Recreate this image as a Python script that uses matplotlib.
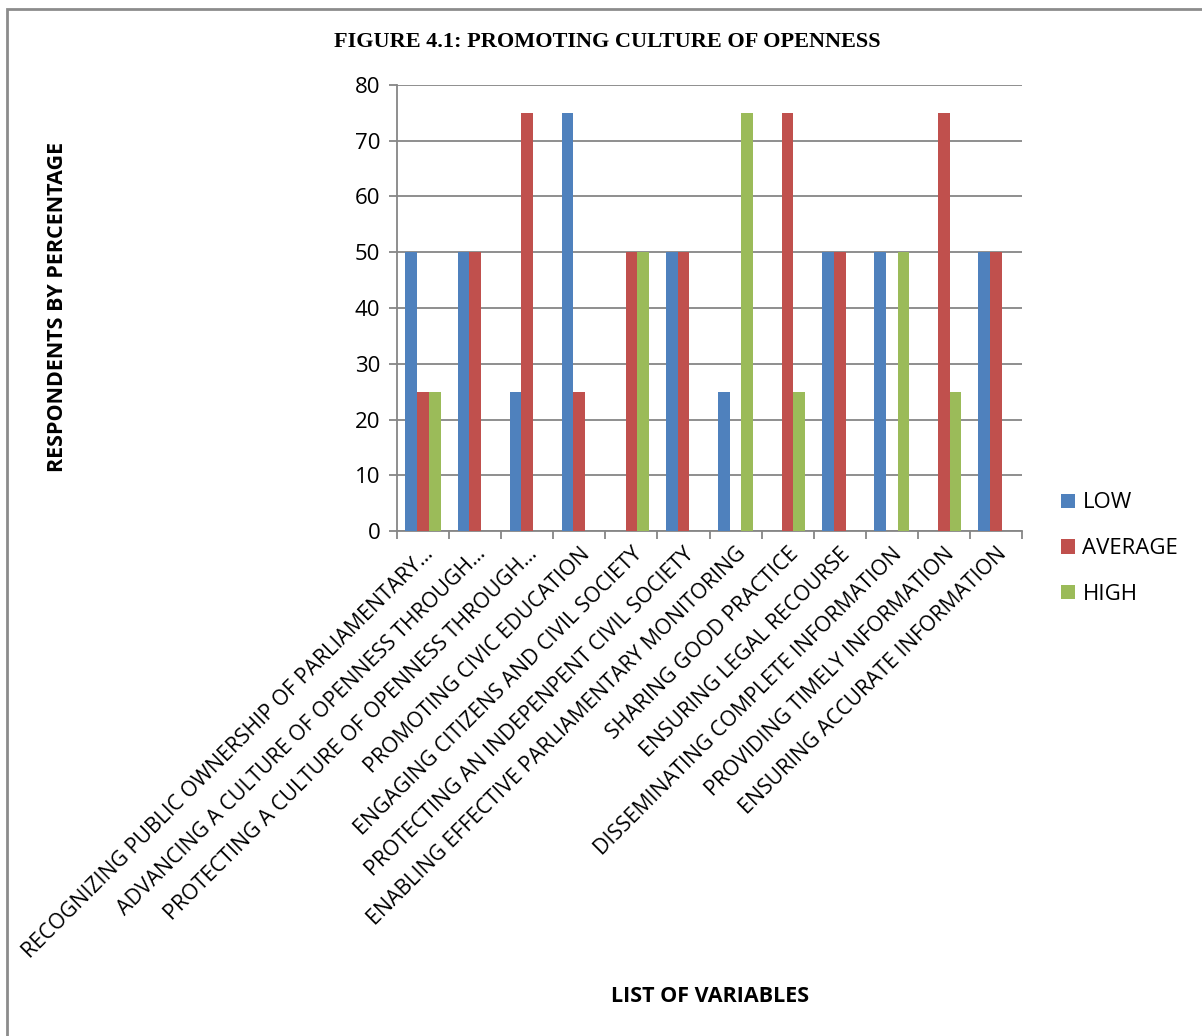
import matplotlib.pyplot as plt
import numpy as np
from matplotlib.patches import Rectangle

categories = [
    "RECOGNIZING PUBLIC OWNERSHIP OF PARLIAMENTARY…",
    "ADVANCING A CULTURE OF OPENNESS THROUGH…",
    "PROTECTING A CULTURE OF OPENNESS THROUGH…",
    "PROMOTING CIVIC EDUCATION",
    "ENGAGING CITIZENS AND CIVIL SOCIETY",
    "PROTECTING AN INDEPENPENT CIVIL SOCIETY",
    "ENABLING EFFECTIVE PARLIAMENTARY MONITORING",
    "SHARING GOOD PRACTICE",
    "ENSURING LEGAL RECOURSE",
    "DISSEMINATING COMPLETE INFORMATION",
    "PROVIDING TIMELY INFORMATION",
    "ENSURING ACCURATE INFORMATION",
]
low = [50, 50, 25, 75, 0, 50, 25, 0, 50, 50, 0, 50]
average = [25, 50, 75, 25, 50, 50, 0, 75, 50, 0, 75, 50]
high = [25, 0, 0, 0, 50, 0, 75, 25, 0, 50, 25, 0]

colors = ["#4F81BD", "#C0504D", "#9BBB59"]
grey = "#868686"
font = "Open Sans"

fig = plt.figure(figsize=(12.02, 10.36), dpi=100)
ax = fig.add_axes((397 / 1202, 1 - 531 / 1036, 625 / 1202, 446 / 1036))

x = np.arange(len(categories))
w = 0.225
for i, (vals, name) in enumerate([(low, "LOW"), (average, "AVERAGE"), (high, "HIGH")]):
    ax.bar(x + (i - 1) * w, vals, w, color=colors[i], label=name, zorder=3)

ax.set_xlim(-0.5, len(categories) - 0.5)
ax.set_ylim(0, 80)
ax.set_yticks(range(0, 81, 10))
ax.yaxis.grid(True, color=grey, lw=1.3, zorder=0)

for s in ["top", "right"]:
    ax.spines[s].set_visible(False)
for s in ["left", "bottom"]:
    ax.spines[s].set_color(grey)
    ax.spines[s].set_linewidth(1.3)

ax.set_xticks(np.arange(len(categories) + 1) - 0.5)
ax.set_xticklabels([])
ax.set_xticks(x, minor=True)
ax.set_xticklabels(categories, minor=True, rotation=45, ha="right", va="top",
                   rotation_mode="anchor", family=font, fontsize=15.3)
ax.tick_params(axis="x", which="minor", length=0, pad=9)
ax.tick_params(axis="x", which="major", length=6, color=grey, width=1.3)
ax.tick_params(axis="y", length=6, color=grey, width=1.3, pad=6)
for t in ax.get_yticklabels():
    t.set_family(font)
    t.set_fontsize(16)

leg = ax.legend(loc="center left", bbox_to_anchor=(1.031, -0.04), frameon=False,
                prop={"family": font, "size": 16}, handlelength=0.6, handleheight=0.6,
                handletextpad=0.35, labelspacing=1.12)

fig.text(607 / 1202, 1 - 42 / 1036, "FIGURE 4.1: PROMOTING CULTURE OF OPENNESS",
         ha="center", va="center", family="Liberation Serif", fontweight="bold", fontsize=16)
fig.text(58 / 1202, 1 - 307 / 1036, "RESPONDENTS BY PERCENTAGE", rotation=90,
         ha="center", va="center", family=font, fontweight="bold", fontsize=15.5)
fig.text(710 / 1202, 1 - 996 / 1036, "LIST OF VARIABLES",
         ha="center", va="center", family=font, fontweight="bold", fontsize=15.5)

# outer frame of the chart area
fig.patches.append(Rectangle((7 / 1202, -0.1), 1.2, 1 - 9 / 1036 + 0.1,
                             transform=fig.transFigure, fill=False,
                             edgecolor="#8c8c8c", lw=2))

fig.savefig("out.png", dpi=100)
